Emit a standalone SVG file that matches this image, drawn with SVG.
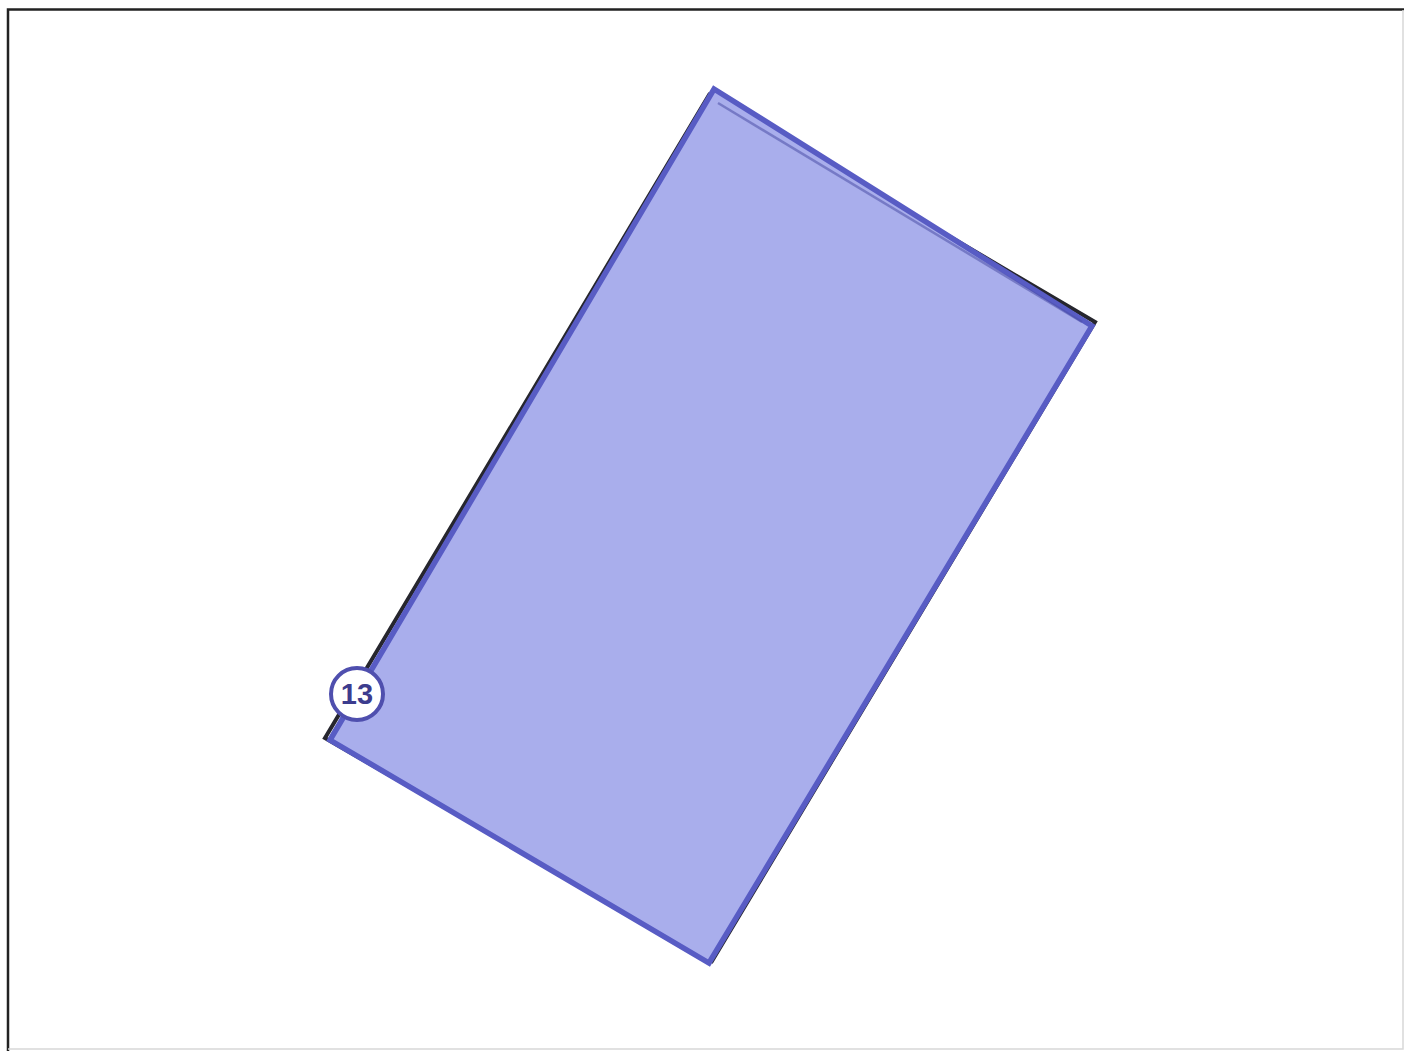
<svg xmlns="http://www.w3.org/2000/svg" width="1404" height="1051" viewBox="0 0 1404 1051">
<style>
.frame{fill:none;stroke:#222;stroke-width:2.5}
.shadow{fill:none;stroke:#26262e;stroke-width:4;stroke-linejoin:miter}
.plate{fill:#a9aeec;stroke:#585cc4;stroke-width:5.5;stroke-linejoin:miter}
.badge{fill:#fff;stroke:#4f4fae;stroke-width:4}
.num{font-family:"Liberation Sans",Arial,sans-serif;font-weight:bold;font-size:29px;fill:#3c3c8e}
</style>
<rect width="1404" height="1051" fill="#fff"/>
<g id="frame">
<path class="frame" d="M8,1051 V9.5 H1404"/>
<path d="M1403,10 V1049 H8" fill="none" stroke="#d8d8d8" stroke-width="1.5"/>
</g>
<g id="plate">
<polygon class="shadow" points="325,738 709,95 1095,322 712,961"/>
<polygon class="plate" points="330,740 714,89 1092,326 709,963"/>
<line x1="718" y1="103" x2="1082" y2="322" stroke="#4d50a8" stroke-width="2.5" opacity="0.55"/>
</g>
<g id="badge13">
<circle class="badge" cx="357" cy="694" r="26"/>
<text class="num" x="357" y="704" text-anchor="middle">13</text>
</g>
</svg>
